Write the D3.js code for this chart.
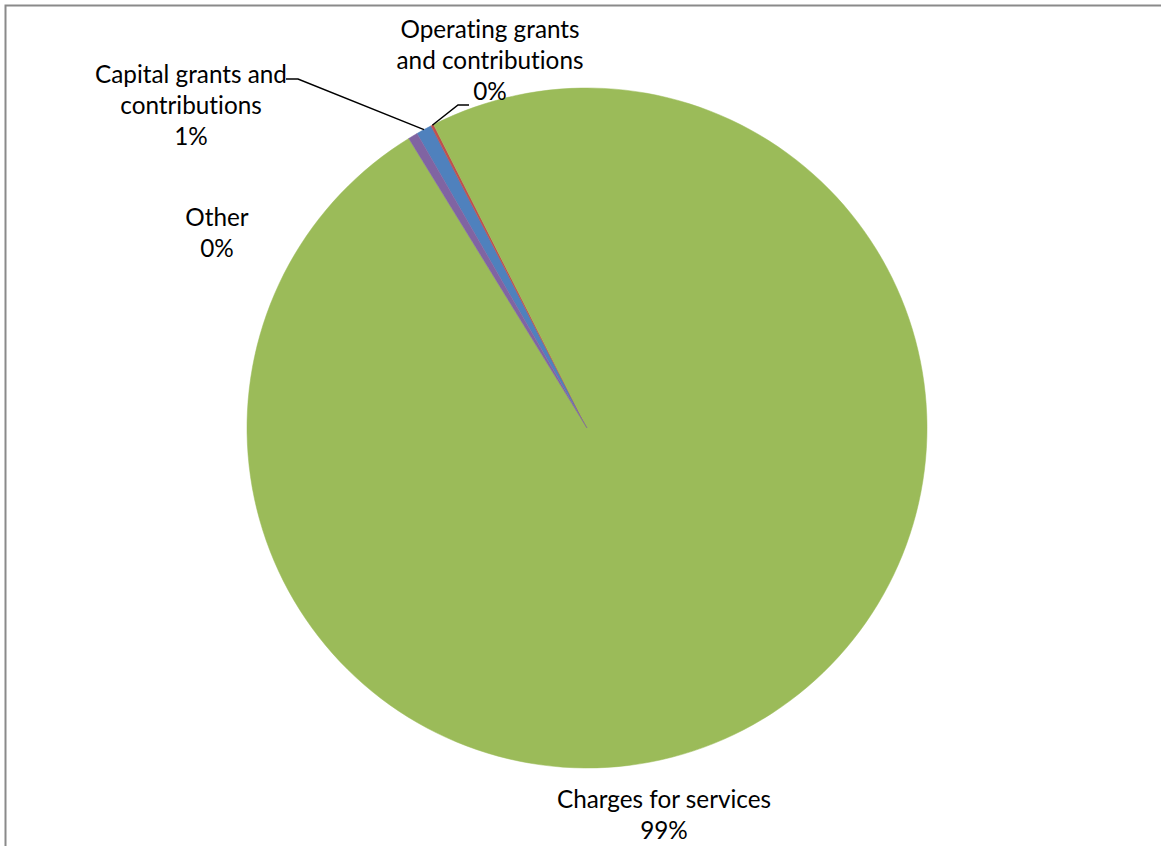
<!DOCTYPE html>
<html>
<head>
<meta charset="utf-8">
<script src="https://cdn.jsdelivr.net/npm/d3@7"></script>
<style>
  html, body { margin: 0; padding: 0; background: #fff; }
  svg { display: block; }
  text { font-family: Lato, "Open Sans", sans-serif; fill: #000; font-variant-ligatures: none; }
</style>
</head>
<body>
<svg id="chart" width="1161" height="846"></svg>
<script>
// Revenue sources, percent of total
const categories = [
  "Capital grants and contributions",
  "Operating grants and contributions",
  "Charges for services",
  "Other"
];
const shares = [0.75, 0.13, 98.67, 0.45];
const percentLabels = ["1%", "0%", "99%", "0%"];
const colors = ["#4F81BD", "#C0504D", "#9BBB59", "#8064A2"];

// label text lines and their placement
const labelLines = [
  ["Capital grants and", "contributions", "1%"],
  ["Operating grants", "and contributions", "0%"],
  ["Charges for services", "99%"],
  ["Other", "0%"]
];
const labelPos = [
  { x: 191, y: 83 },
  { x: 490, y: 38 },
  { x: 664, y: 808 },
  { x: 217, y: 226 }
];
// leader line elbows (label-side points) for the narrow slices
const leaders = [
  { idx: 0, elbow: [298, 79], end: [286, 79] },
  { idx: 1, elbow: [458, 105], end: [469, 105] }
];

const W = 1161, H = 846;
const cx = 587, cy = 428, R = 340;
const lineH = 31;
const startDeg = -30;

const svg = d3.select("#chart");

// outer frame
svg.append("path")
  .attr("d", `M5.5,${H} L5.5,5.5 L${W},5.5`)
  .attr("fill", "none")
  .attr("stroke", "#8a8a8a")
  .attr("stroke-width", 2);

const pie = d3.pie()
  .sort(null)
  .value(d => d)
  .startAngle(startDeg * Math.PI / 180)
  .endAngle((startDeg + 360) * Math.PI / 180);

const arcs = pie(shares);
const arc = d3.arc().innerRadius(0).outerRadius(R);

const g = svg.append("g").attr("transform", `translate(${cx},${cy})`);
g.selectAll("path.slice")
  .data(arcs)
  .join("path")
  .attr("class", "slice")
  .attr("d", arc)
  .attr("fill", (d, i) => colors[i])
  .attr("stroke", (d, i) => colors[i])
  .attr("stroke-width", 0.5);

// leader lines from the slice edge to the label
leaders.forEach(l => {
  const a = arcs[l.idx];
  const mid = (a.startAngle + a.endAngle) / 2;
  const px = cx + R * Math.sin(mid);
  const py = cy - R * Math.cos(mid);
  svg.append("polyline")
    .attr("points", [[px, py], l.elbow, l.end].map(p => p.join(",")).join(" "))
    .attr("fill", "none")
    .attr("stroke", "#000")
    .attr("stroke-width", 1.5);
});

// labels
labelLines.forEach((lines, i) => {
  const t = svg.append("text")
    .attr("text-anchor", "middle")
    .attr("font-size", 24.3);
  lines.forEach((s, k) => {
    t.append("tspan")
      .attr("x", labelPos[i].x)
      .attr("y", labelPos[i].y + k * lineH)
      .text(s);
  });
});
</script>
</body>
</html>
